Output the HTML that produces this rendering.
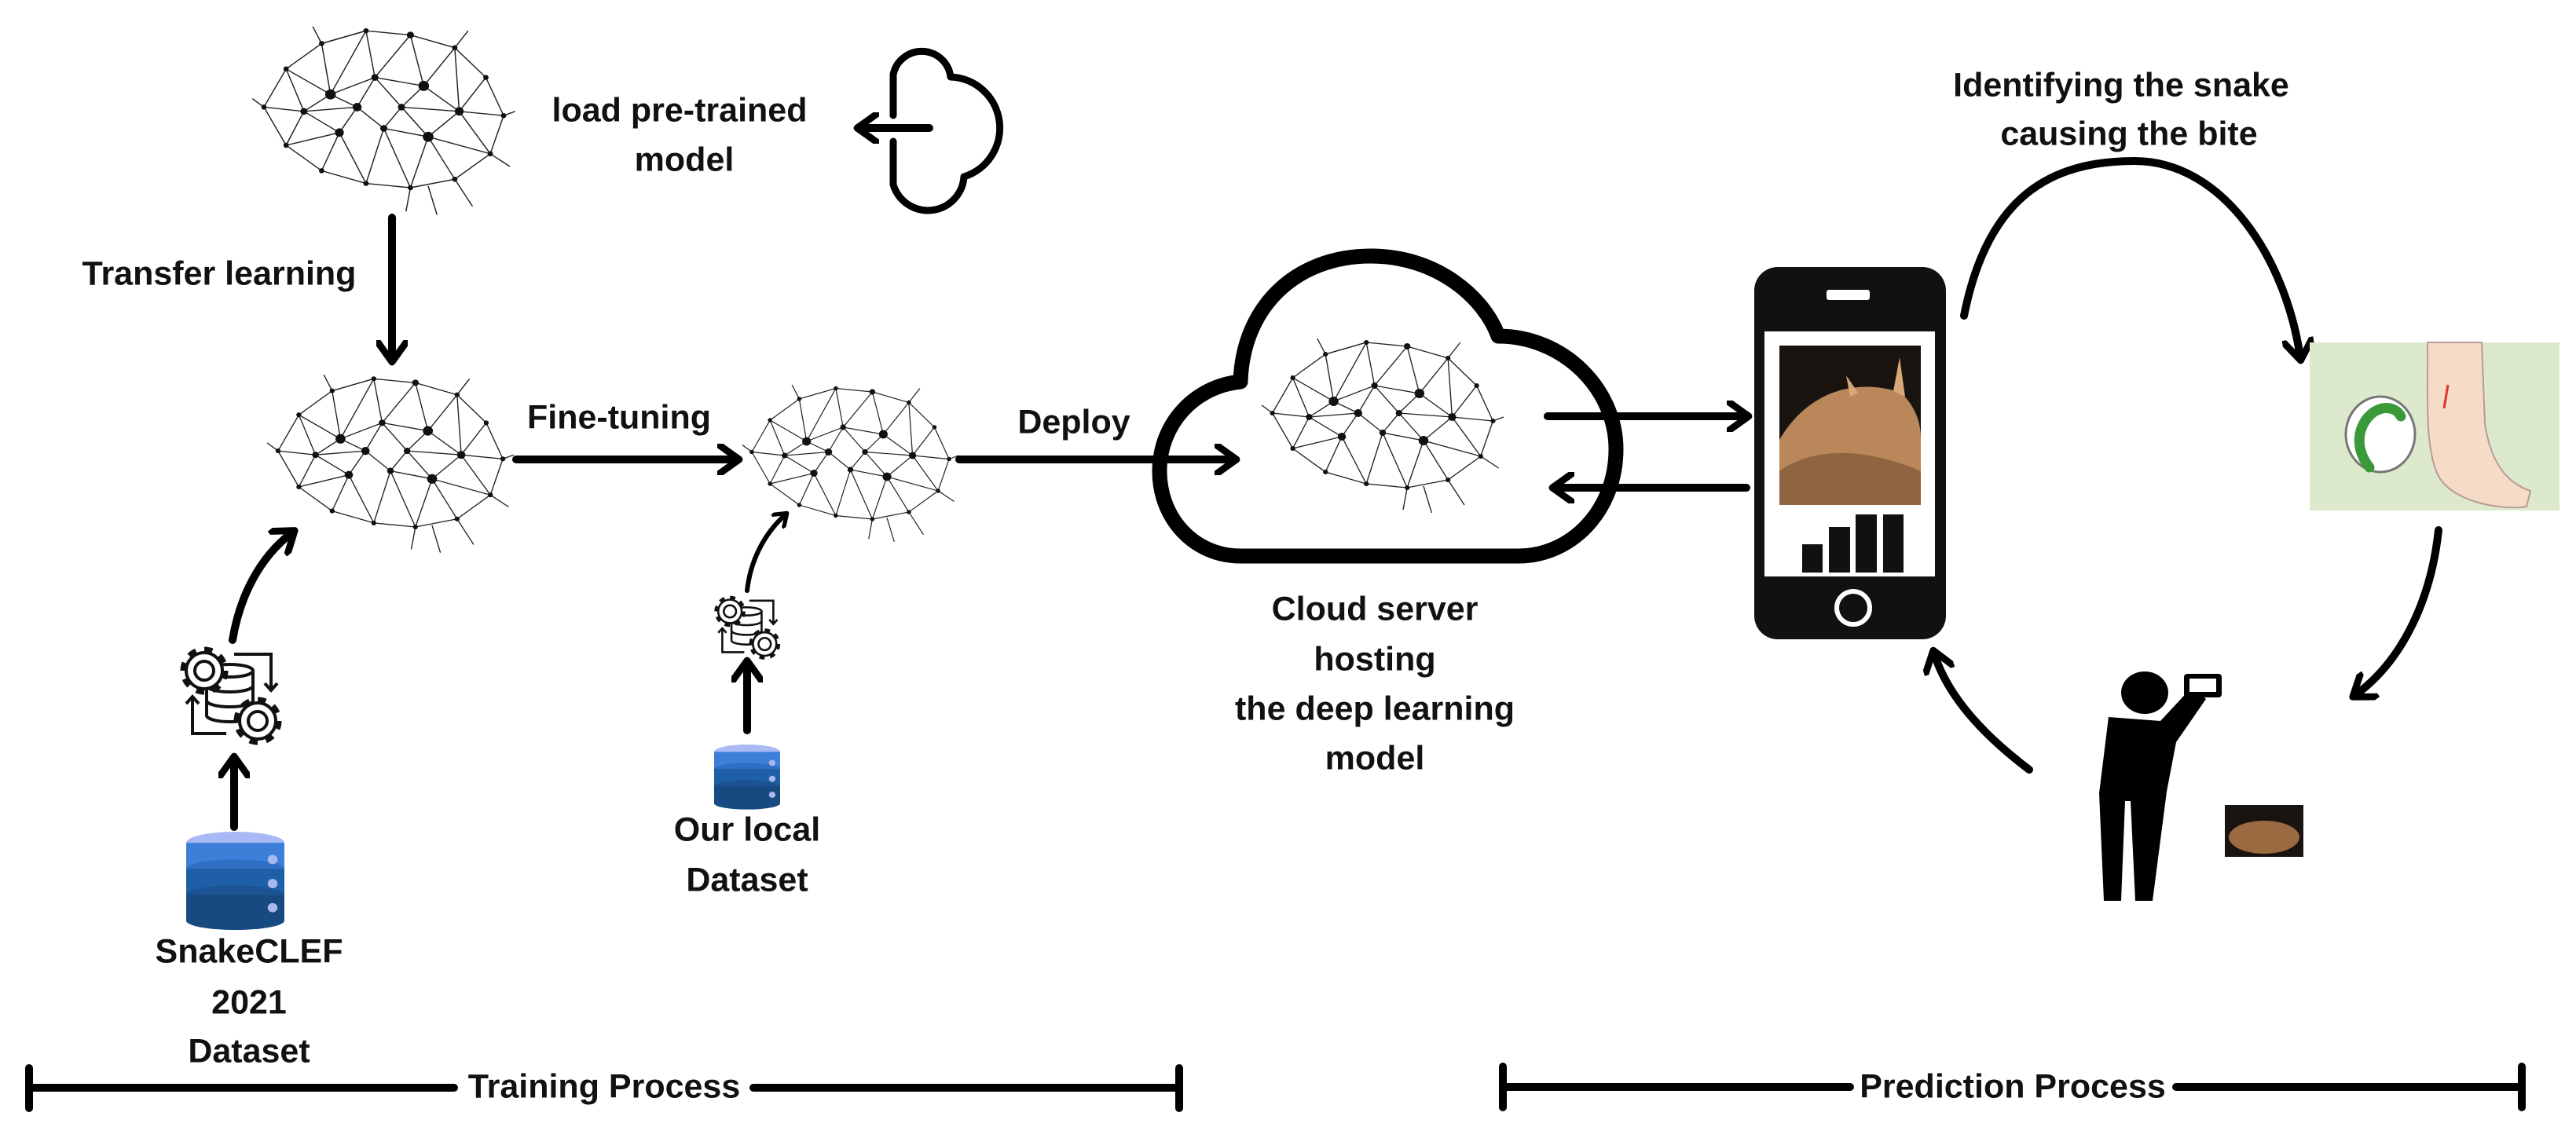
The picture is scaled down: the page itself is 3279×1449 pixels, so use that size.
<!DOCTYPE html>
<html><head><meta charset="utf-8"><style>
html,body{margin:0;padding:0;background:#fff}
body{width:3279px;height:1449px;position:relative;overflow:hidden;font-family:"Liberation Sans",sans-serif}
.t{position:absolute;font-weight:bold;font-size:43px;color:#111;text-align:center;white-space:nowrap;transform:translate(-50%,-50%)}
svg{position:absolute;left:0;top:0}
</style></head><body>
<svg width="3279" height="1449" viewBox="0 0 3279 1449">
<defs>
<marker id="ah" viewBox="0 0 10 10" refX="6" refY="5" markerWidth="4" markerHeight="4" orient="auto"><path d="M0,0 L7,5 L0,10" fill="none" stroke="#000" stroke-width="2.2" stroke-linecap="round" stroke-linejoin="round"/></marker>
<g id="brain" stroke="#222" stroke-width="1.3" fill="none">
<path d="M40,60 L80,30 L130,15 L180,20 L230,35 L265,70 L285,115 L270,160 L230,190 L180,200 L130,195 L80,180 L40,150 L15,105 Z"/>
<path d="M40,60 L90,90 L130,15 L140,70 L180,20 L195,80 L230,35 L235,110 L265,70 M285,115 L235,110 L270,160 L200,140 L230,190 M180,200 L200,140 L150,130 L130,195 L100,135 L80,180 M40,150 L100,135 L60,110 L15,105 M40,60 L60,110 L90,90 L140,70 L195,80 L170,105 L140,70 L120,105 L90,90 M120,105 L150,130 L170,105 L200,140 L235,110 L195,80 M60,110 L120,105 L100,135 M80,30 L90,90 M150,130 L180,200 M170,105 L235,110 M40,150 L60,110 M130,15 L80,30"/>
<path d="M200,198 L210,232 M230,190 L250,222 M180,200 L175,228 M270,160 L292,175 M15,105 L2,95 M285,115 L298,110 M80,30 L70,10 M230,35 L245,15"/>
<g fill="#111" stroke="none">
<circle cx="40" cy="60" r="3"/><circle cx="80" cy="30" r="3"/><circle cx="130" cy="15" r="3"/><circle cx="180" cy="20" r="4"/><circle cx="230" cy="35" r="3"/><circle cx="265" cy="70" r="3"/><circle cx="285" cy="115" r="3"/><circle cx="270" cy="160" r="3"/><circle cx="230" cy="190" r="3"/><circle cx="180" cy="200" r="3"/><circle cx="130" cy="195" r="3"/><circle cx="80" cy="180" r="3"/><circle cx="40" cy="150" r="3"/><circle cx="15" cy="105" r="3"/><circle cx="90" cy="90" r="6"/><circle cx="140" cy="70" r="4"/><circle cx="195" cy="80" r="6"/><circle cx="235" cy="110" r="5"/><circle cx="200" cy="140" r="6"/><circle cx="150" cy="130" r="4"/><circle cx="100" cy="135" r="5"/><circle cx="60" cy="110" r="4"/><circle cx="170" cy="105" r="4"/><circle cx="120" cy="105" r="5"/>
</g></g>
<g id="db"><ellipse cx="50" cy="12" rx="50" ry="12" fill="#a9b9f5"/><rect x="0" y="12" width="100" height="28" fill="#3b7fd8"/><ellipse cx="50" cy="40" rx="50" ry="10" fill="#2e6fc4"/><rect x="0" y="40" width="100" height="28" fill="#1f5fa8"/><ellipse cx="50" cy="68" rx="50" ry="10" fill="#1a5494"/><rect x="0" y="68" width="100" height="28" fill="#174a80"/><ellipse cx="50" cy="96" rx="50" ry="10" fill="#174a80"/><circle cx="88" cy="30" r="5" fill="#aab8f0"/><circle cx="88" cy="56" r="5" fill="#aab8f0"/><circle cx="88" cy="82" r="5" fill="#aab8f0"/></g>
<g id="gear"><circle r="26" fill="none" stroke="#111" stroke-width="9" stroke-dasharray="10 10.4"/><circle r="23" fill="#fff" stroke="#111" stroke-width="4"/><circle r="12" fill="none" stroke="#111" stroke-width="4"/></g>
<g id="gears" fill="none" stroke="#111" stroke-width="4">
<path d="M34,33 V90 A29.5,8 0 0 0 93,90 V33 A29.5,8 0 0 0 34,33 A29.5,8 0 0 0 93,33 M34,52 A29.5,8 0 0 0 93,52 M34,71 A29.5,8 0 0 0 93,71" fill="#fff"/>
<use href="#gear" transform="translate(31,33)"/>
<use href="#gear" transform="translate(99,97)"/>
<path d="M69,12 H116 V57 M108,49 L116,58 L124,49 M59,113 H16 V67 M8,75 L16,66 L24,75"/>
</g>
</defs>
<use href="#brain" transform="translate(319,23) scale(1.13,1.08)"/>
<use href="#brain" transform="translate(338,467) scale(1.06,1.02)"/>
<use href="#brain" transform="translate(943,481) scale(0.93,0.9)"/>
<use href="#brain" transform="translate(1604,421) scale(1.04,1.0)"/>
<g fill="none" stroke="#000" stroke-width="10" stroke-linecap="round" stroke-linejoin="round">
<path d="M1137,147 V95 A37,37 0 0 1 1210,98 A65,65 0 0 1 1227,225 A46,46 0 0 1 1137,235 V180" stroke-width="9"/>
<path d="M1183,163 H1095" marker-end="url(#ah)"/>
<path d="M499,277 V457" marker-end="url(#ah)"/>
<path d="M657,585 H937" marker-end="url(#ah)"/>
<path d="M1221,585 H1570" marker-end="url(#ah)"/>
<path d="M1970,530 H2222" marker-end="url(#ah)"/>
<path d="M2223,621 H1980" marker-end="url(#ah)"/>
<path d="M1579,708 C1520,708 1476,660 1476,600 C1476,540 1520,492 1579,486 C1582,390 1650,326 1745,326 C1830,326 1890,380 1907,428 C1990,428 2057,495 2057,572 C2057,650 2000,708 1933,708 Z" stroke-width="19"/>
<path d="M2500,402 C2530,250 2610,205 2717,205 C2830,205 2910,330 2928,455" marker-end="url(#ah)"/>
<path d="M3104,675 C3095,760 3060,840 2998,885" marker-end="url(#ah)"/>
<path d="M2583,980 C2530,940 2480,890 2462,832" marker-end="url(#ah)"/>
<path d="M298,1053 V967" marker-end="url(#ah)"/>
<path d="M296,815 C305,760 330,710 372,678" marker-end="url(#ah)"/>
<path d="M951,930 V845" marker-end="url(#ah)"/>
<path d="M951,752 C955,715 972,680 1000,655" stroke-width="6" marker-end="url(#ah)"/>
<path d="M37,1385 H578 M959,1385 H1501 M37,1360 V1411 M1501,1360 V1411"/>
<path d="M1913,1384 H2355 M2770,1384 H3210 M1913,1358 V1410 M3210,1358 V1410"/>
</g>
<use href="#gears" transform="translate(229,821)"/>
<use href="#gears" transform="translate(909,757) scale(0.65)"/>
<use href="#db" transform="translate(237,1059) scale(1.25,1.18)"/>
<use href="#db" transform="translate(909,948) scale(0.84,0.78)"/>
<rect x="2233" y="340" width="244" height="474" rx="30" fill="#111"/>
<rect x="2325" y="369" width="55" height="13" rx="3" fill="#fff"/>
<rect x="2246" y="422" width="217" height="312" fill="#fff"/>
<rect x="2265" y="440" width="180" height="203" fill="#1a1410"/>
<path d="M2265,560 C2300,500 2360,480 2420,500 C2440,520 2445,540 2445,560 V643 H2265 Z" fill="#b9875a"/>
<path d="M2265,600 C2320,560 2400,580 2445,600 V643 H2265 Z" fill="#8f6440"/>
<path d="M2410,498 L2418,455 L2425,505 Z M2355,505 L2350,478 L2365,500 Z" fill="#d9a878"/>
<g fill="#111"><rect x="2294" y="693" width="26" height="36"/><rect x="2328" y="671" width="27" height="58"/><rect x="2362" y="655" width="27" height="74"/><rect x="2397" y="655" width="26" height="74"/></g>
<circle cx="2359" cy="774" r="21" fill="#111" stroke="#fff" stroke-width="6"/>
<rect x="2940" y="436" width="318" height="214" fill="#dce9cc"/>
<ellipse cx="3030" cy="553" rx="44" ry="48" fill="#fff" stroke="#777" stroke-width="3"/>
<path d="M3016,595 C2996,570 3001,540 3021,525 C3036,515 3051,520 3056,530" stroke="#3a9a3a" stroke-width="13" fill="none" stroke-linecap="round"/>
<path d="M3090,436 C3091,500 3086,560 3101,600 C3116,640 3186,650 3216,645 L3221,625 C3191,615 3171,590 3163,540 L3159,436 Z" fill="#f5dcc6" stroke="#b99" stroke-width="2"/>
<path d="M3116,490 L3111,520" stroke="#d33" stroke-width="3"/>
<g fill="#000"><ellipse cx="2730" cy="882" rx="30" ry="27"/><path d="M2684,913 L2750,918 L2790,875 L2808,890 L2770,945 L2758,1008 L2740,1147 L2718,1147 L2712,1020 L2705,1020 L2700,1147 L2678,1147 L2672,1010 Z"/><rect x="2780" y="858" width="48" height="30" rx="4"/></g>
<rect x="2787" y="864" width="34" height="17" fill="#fff"/>
<rect x="2832" y="1025" width="100" height="66" fill="#1a1410"/>
<ellipse cx="2882" cy="1066" rx="45" ry="21" fill="#9a6a40"/>
</svg>
<div class="t" style="left:865px;top:141px">load pre-trained</div>
<div class="t" style="left:871px;top:204px">model</div>
<div class="t" style="left:279px;top:349px">Transfer learning</div>
<div class="t" style="left:788px;top:532px">Fine-tuning</div>
<div class="t" style="left:1367px;top:538px">Deploy</div>
<div class="t" style="left:1750px;top:776px">Cloud server</div>
<div class="t" style="left:1750px;top:840px">hosting</div>
<div class="t" style="left:1750px;top:903px">the deep learning</div>
<div class="t" style="left:1750px;top:966px">model</div>
<div class="t" style="left:2700px;top:109px">Identifying the snake</div>
<div class="t" style="left:2710px;top:171px">causing the bite</div>
<div class="t" style="left:317px;top:1212px">SnakeCLEF</div>
<div class="t" style="left:317px;top:1277px">2021</div>
<div class="t" style="left:317px;top:1339px">Dataset</div>
<div class="t" style="left:951px;top:1057px">Our local</div>
<div class="t" style="left:951px;top:1121px">Dataset</div>
<div class="t" style="left:769px;top:1384px">Training Process</div>
<div class="t" style="left:2562px;top:1384px">Prediction Process</div>
</body></html>
